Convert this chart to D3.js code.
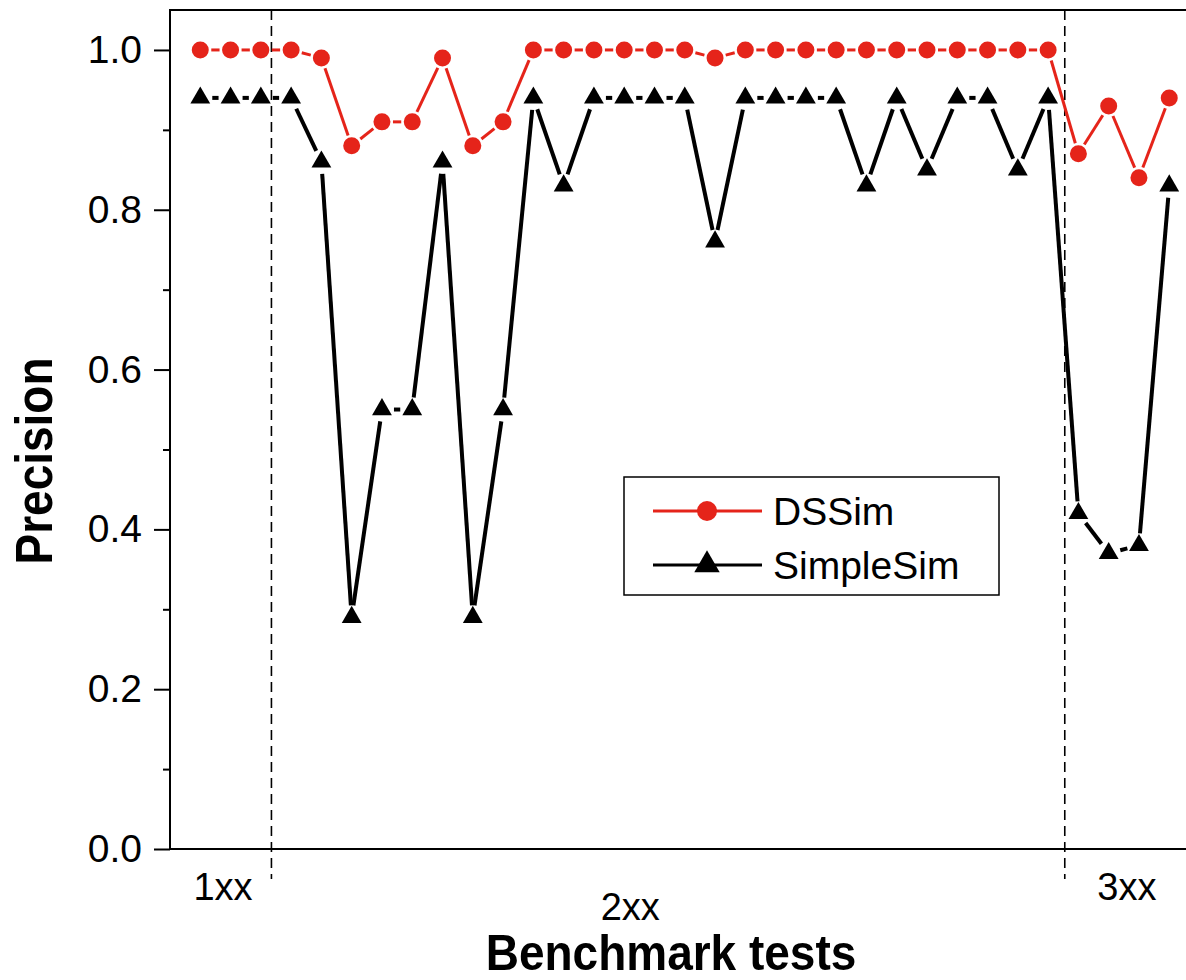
<!DOCTYPE html>
<html>
<head>
<meta charset="utf-8">
<script src="https://cdn.jsdelivr.net/npm/d3@7"></script>
<style>
  body { margin: 0; background: #fff; }
  text { font-family: "Liberation Sans", Arial, sans-serif; }
</style>
</head>
<body>
<div id="root"></div>
<script>
// test index 0..32, grouped 1xx / 2xx / 3xx
const dssim = [1.0, 1.0, 1.0, 1.0, 0.99, 0.88, 0.91, 0.91, 0.99, 0.88, 0.91,
  1.0, 1.0, 1.0, 1.0, 1.0, 1.0, 0.99, 1.0, 1.0, 1.0, 1.0, 1.0, 1.0, 1.0, 1.0,
  1.0, 1.0, 1.0, 0.87, 0.93, 0.84, 0.94];
const simpleSim = [0.94, 0.94, 0.94, 0.94, 0.86, 0.29, 0.55, 0.55, 0.86, 0.29, 0.55,
  0.94, 0.83, 0.94, 0.94, 0.94, 0.94, 0.76, 0.94, 0.94, 0.94, 0.94, 0.83, 0.94, 0.85,
  0.94, 0.94, 0.85, 0.94, 0.42, 0.37, 0.38, 0.83];
const groupLabels = ["1xx", "2xx", "3xx"];
const groupLabelPos = [0.75, 14.2, 30.6];
const groupDividers = [2.35, 28.55];
const yTicks = [0, 0.2, 0.4, 0.6, 0.8, 1.0];
const yMinorTicks = [0.1, 0.3, 0.5, 0.7, 0.9];

const W = 1186, H = 980;
const margin = {top: 10, left: 170, bottom: 131};

const svg = d3.select("#root").append("svg")
    .attr("width", W)
    .attr("height", H);

const x = d3.scaleLinear().domain([-1, 34]).range([margin.left, margin.left + 35 * 30.28]);
const y = d3.scaleLinear().domain([0, 1.05]).range([H - margin.bottom, margin.top]);

// frame (right side runs off the picture)
svg.append("rect")
    .attr("x", x(-1))
    .attr("y", y(1.05))
    .attr("width", x(34) - x(-1))
    .attr("height", y(0) - y(1.05))
    .attr("fill", "none")
    .attr("stroke", "#000")
    .attr("stroke-width", 2);

// y axis
const yAxis = d3.axisLeft(y).tickValues(yTicks).tickSize(16).tickPadding(12)
    .tickFormat(d3.format(".1f"));
const gy = svg.append("g")
    .attr("transform", "translate(" + margin.left + ",0)")
    .call(yAxis);
gy.select(".domain").remove();
gy.selectAll("line").attr("stroke-width", 2);
gy.selectAll("text")
    .attr("font-size", "39px")
    .attr("font-family", "Liberation Sans, Arial, sans-serif")
    .attr("fill", "#000");

const gyMinor = svg.append("g")
    .attr("transform", "translate(" + margin.left + ",0)")
    .call(d3.axisLeft(y).tickValues(yMinorTicks).tickSize(7).tickFormat(""));
gyMinor.select(".domain").remove();
gyMinor.selectAll("line").attr("stroke-width", 2);

// dashed group dividers
svg.selectAll(".divider")
    .data(groupDividers)
    .enter().append("line")
    .attr("class", "divider")
    .attr("x1", d => x(d))
    .attr("x2", d => x(d))
    .attr("y1", y(1.05))
    .attr("y2", y(0) + 30)
    .attr("stroke", "#000")
    .attr("stroke-width", 1.6)
    .attr("stroke-dasharray", "10,6");

// group labels
svg.selectAll(".glabel")
    .data(groupLabels)
    .enter().append("text")
    .attr("class", "glabel")
    .attr("x", (d, i) => x(groupLabelPos[i]))
    .attr("y", (d, i) => i == 1 ? y(0) + 71 : y(0) + 51)
    .attr("text-anchor", "middle")
    .attr("font-size", "38px")
    .text(d => d);

// axis titles
svg.append("text")
    .attr("transform", "translate(671,970) scale(1,1.1)")
    .attr("text-anchor", "middle")
    .attr("font-size", "46px")
    .attr("font-weight", "bold")
    .text("Benchmark tests");

svg.append("text")
    .attr("transform", "translate(52,461) rotate(-90) scale(1,1.12)")
    .attr("text-anchor", "middle")
    .attr("font-size", "46px")
    .attr("font-weight", "bold")
    .text("Precision");

// lines with a gap around each symbol
function drawSeries(values, color, width, gap) {
  const segs = d3.pairs(values.map((v, i) => [x(i), y(v)]));
  svg.append("g").selectAll("line")
    .data(segs)
    .enter().append("line")
    .each(function(d) {
      const [a, b] = d;
      const dx = b[0] - a[0], dy = b[1] - a[1];
      const len = Math.sqrt(dx * dx + dy * dy);
      const ux = dx / len, uy = dy / len;
      d3.select(this)
        .attr("x1", a[0] + ux * gap)
        .attr("y1", a[1] + uy * gap)
        .attr("x2", b[0] - ux * gap)
        .attr("y2", b[1] - uy * gap);
    })
    .attr("stroke", color)
    .attr("stroke-width", width);
}

const red = "#e5241a";
drawSeries(dssim, red, 3, 11);
drawSeries(simpleSim, "#000", 4, 12);

svg.append("g").selectAll("circle")
    .data(dssim)
    .enter().append("circle")
    .attr("cx", (d, i) => x(i))
    .attr("cy", d => y(d))
    .attr("r", 8.5)
    .attr("fill", red);

const tri = d3.symbol().type(d3.symbolTriangle).size(170);
svg.append("g").selectAll("path")
    .data(simpleSim)
    .enter().append("path")
    .attr("d", tri)
    .attr("transform", (d, i) => "translate(" + x(i) + "," + y(d) + ")")
    .attr("fill", "#000");

// legend
const legend = svg.append("g").attr("transform", "translate(624,477)");
legend.append("rect")
    .attr("width", 375)
    .attr("height", 118)
    .attr("fill", "#fff")
    .attr("stroke", "#000")
    .attr("stroke-width", 1.5);

const items = [{name: "DSSim", color: red, sym: "circle"}, {name: "SimpleSim", color: "#000", sym: "tri"}];
const li = legend.selectAll(".legend")
    .data(items)
    .enter().append("g")
    .attr("class", "legend")
    .attr("transform", (d, i) => "translate(0," + (34 + i * 54) + ")");

li.append("line")
    .attr("x1", 29).attr("x2", 138)
    .attr("stroke", d => d.color)
    .attr("stroke-width", 3);
li.filter(d => d.sym == "circle").append("circle")
    .attr("cx", 83).attr("r", 10)
    .attr("fill", d => d.color);
li.filter(d => d.sym == "tri").append("path")
    .attr("d", d3.symbol().type(d3.symbolTriangle).size(280))
    .attr("transform", "translate(83,0)")
    .attr("fill", d => d.color);
li.append("text")
    .attr("x", 149)
    .attr("dy", "0.36em")
    .attr("font-size", "39px")
    .text(d => d.name);
</script>
</body>
</html>
